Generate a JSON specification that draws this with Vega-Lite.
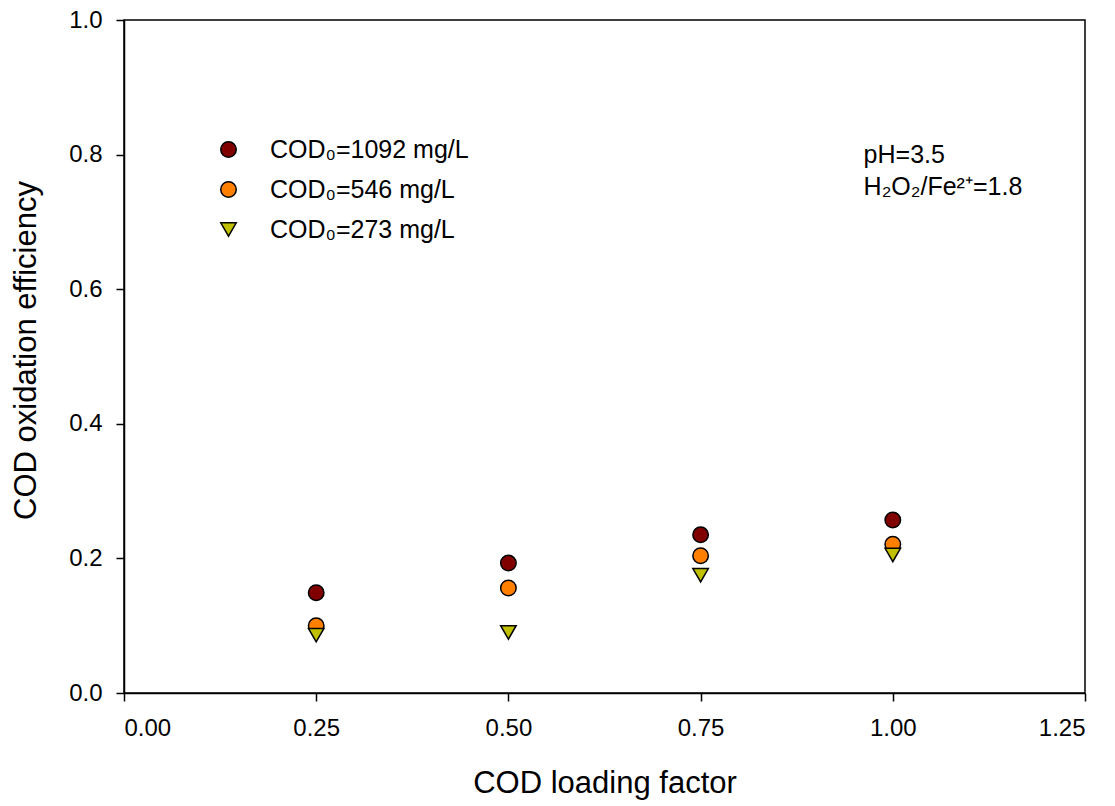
{
  "$schema": "https://vega.github.io/schema/vega-lite/v6.json",
  "autosize": "none",
  "width": 961,
  "height": 673,
  "padding": {"left": 124, "top": 20, "right": 30, "bottom": 113},
  "background": "white",
  "config": {
    "font": "Liberation Sans",
    "view": {"stroke": "black", "strokeWidth": 1.5},
    "axis": {
      "grid": false,
      "domainColor": "black",
      "domainWidth": 1.5,
      "tickColor": "black",
      "tickWidth": 1.5,
      "tickSize": 8,
      "labelFont": "Liberation Sans",
      "labelFontSize": 24,
      "labelColor": "black",
      "titleFont": "Liberation Sans",
      "titleFontSize": 31,
      "titleFontWeight": "normal",
      "titleColor": "black"
    }
  },
  "layer": [
    {
      "data": {
        "values": [
          {"factor": 0.25, "eff": 0.149, "series": "COD₀=1092 mg/L"},
          {"factor": 0.50, "eff": 0.193, "series": "COD₀=1092 mg/L"},
          {"factor": 0.75, "eff": 0.235, "series": "COD₀=1092 mg/L"},
          {"factor": 1.00, "eff": 0.257, "series": "COD₀=1092 mg/L"},
          {"factor": 0.25, "eff": 0.100, "series": "COD₀=546 mg/L"},
          {"factor": 0.50, "eff": 0.156, "series": "COD₀=546 mg/L"},
          {"factor": 0.75, "eff": 0.204, "series": "COD₀=546 mg/L"},
          {"factor": 1.00, "eff": 0.221, "series": "COD₀=546 mg/L"},
          {"factor": 0.25, "eff": 0.086, "series": "COD₀=273 mg/L"},
          {"factor": 0.50, "eff": 0.090, "series": "COD₀=273 mg/L"},
          {"factor": 0.75, "eff": 0.175, "series": "COD₀=273 mg/L"},
          {"factor": 1.00, "eff": 0.205, "series": "COD₀=273 mg/L"}
        ]
      },
      "mark": {"type": "point", "filled": true, "size": 240, "stroke": "black", "strokeWidth": 1.5, "opacity": 1},
      "encoding": {
        "x": {
          "field": "factor", "type": "quantitative",
          "scale": {"domain": [0, 1.25], "nice": false, "zero": false},
          "axis": {"values": [0, 0.25, 0.5, 0.75, 1.0, 1.25], "format": ".2f", "labelPadding": 15, "title": "COD loading factor", "titlePadding": 28}
        },
        "y": {
          "field": "eff", "type": "quantitative",
          "scale": {"domain": [0, 1.0], "nice": false},
          "axis": {"values": [0, 0.2, 0.4, 0.6, 0.8, 1.0], "format": ".1f", "labelPadding": 14, "title": "COD oxidation efficiency", "titlePadding": 26, "titleY": 330}
        },
        "color": {
          "field": "series", "type": "nominal",
          "scale": {
            "domain": ["COD₀=1092 mg/L", "COD₀=546 mg/L", "COD₀=273 mg/L"],
            "range": ["#800000", "#FF8000", "#C0C000"]
          },
          "legend": {
            "orient": "none",
            "legendX": 92,
            "legendY": 117,
            "title": null,
            "padding": 0,
            "labelFontSize": 25,
            "labelFont": "Liberation Sans",
            "labelColor": "black",
            "labelOffset": 29,
            "labelLimit": 500,
            "rowPadding": 14,
            "symbolSize": 240,
            "symbolStrokeColor": "black",
            "symbolStrokeWidth": 1.5
          }
        },
        "shape": {
          "field": "series", "type": "nominal",
          "scale": {
            "domain": ["COD₀=1092 mg/L", "COD₀=546 mg/L", "COD₀=273 mg/L"],
            "range": ["circle", "circle", "triangle-down"]
          },
          "legend": null
        }
      }
    },
    {
      "data": {"values": [{"label": "pH=3.5"}]},
      "mark": {"type": "text", "align": "left", "baseline": "middle", "fontSize": 25, "font": "Liberation Sans", "color": "black"},
      "encoding": {
        "x": {"datum": 0.962, "type": "quantitative"},
        "y": {"datum": 0.799, "type": "quantitative"},
        "text": {"field": "label"}
      }
    },
    {
      "data": {"values": [{"label": "H₂O₂/Fe²⁺=1.8"}]},
      "mark": {"type": "text", "align": "left", "baseline": "middle", "fontSize": 25, "font": "Liberation Sans", "color": "black"},
      "encoding": {
        "x": {"datum": 0.962, "type": "quantitative"},
        "y": {"datum": 0.752, "type": "quantitative"},
        "text": {"field": "label"}
      }
    }
  ]
}
